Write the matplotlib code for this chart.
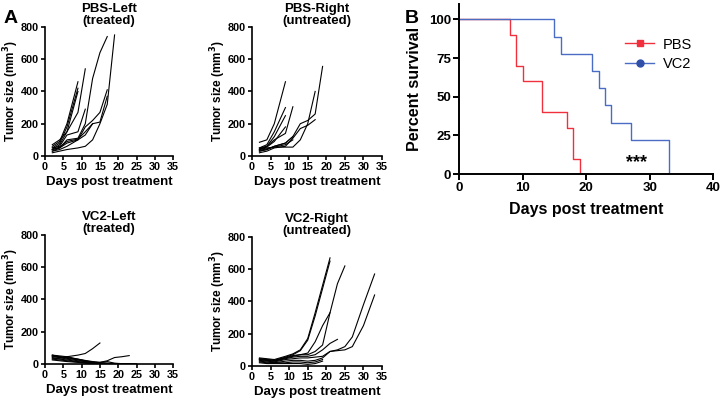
import numpy as np
import matplotlib.pyplot as plt

plt.rcParams['font.family'] = ['Liberation Sans', 'DejaVu Sans']

# tumor growth curves: (days, volumes) per mouse
pbs_left = [
    ([2, 4, 6, 9], [60, 90, 200, 460]),
    ([2, 4, 6, 9], [50, 80, 180, 420]),
    ([2, 4, 6, 9], [40, 70, 150, 400]),
    ([2, 4, 6, 9, 11], [70, 100, 150, 270, 540]),
    ([2, 4, 6, 9, 11], [50, 60, 130, 150, 290]),
    ([2, 4, 6, 9, 11, 13, 15, 17], [40, 50, 100, 110, 200, 480, 640, 740]),
    ([2, 4, 6, 9, 11, 13, 15, 17], [30, 50, 80, 100, 180, 220, 270, 410]),
    ([2, 4, 6, 9, 11, 13, 15, 17], [30, 40, 60, 100, 130, 200, 210, 370]),
    ([2, 4, 6, 9, 11, 13, 15, 17, 19], [20, 30, 40, 50, 60, 100, 200, 320, 750]),
    ([2, 4, 6, 9, 11, 13], [40, 55, 90, 105, 150, 200]),
]
pbs_right = [
    ([2, 4, 6, 9], [85, 100, 200, 460]),
    ([2, 4, 6, 9], [50, 70, 150, 300]),
    ([2, 4, 6, 9], [40, 60, 120, 250]),
    ([2, 4, 6, 9, 11], [50, 60, 100, 140, 305]),
    ([2, 4, 6, 9, 11, 13, 15, 17, 19], [30, 40, 60, 80, 120, 200, 220, 260, 555]),
    ([2, 4, 6, 9, 11, 13, 15, 17], [20, 30, 50, 60, 110, 170, 190, 225]),
    ([2, 4, 6, 9, 11, 13, 15, 17], [40, 50, 55, 55, 55, 100, 200, 400]),
    ([2, 4, 6, 9, 11], [30, 40, 60, 80, 120]),
    ([2, 4, 6, 9], [45, 55, 90, 180]),
    ([2, 4, 6, 9, 11], [35, 45, 55, 70, 100]),
]
vc2_left = [
    ([2, 4, 6, 9, 11, 13, 15], [35, 35, 45, 55, 65, 95, 130]),
    ([2, 4, 6, 9, 11, 13, 15, 17, 19, 21, 23], [50, 40, 30, 20, 15, 10, 10, 20, 40, 45, 52]),
    ([2, 4, 6, 9, 11, 13, 15, 17, 19, 21, 23, 25], [55, 50, 45, 30, 20, 12, 8, 5, 3, 2, 1, 0]),
    ([2, 4, 6, 9, 11, 13, 15, 17, 19, 21, 23], [50, 45, 40, 28, 18, 10, 6, 4, 2, 1, 0]),
    ([2, 4, 6, 9, 11, 13, 15, 17, 19, 21], [45, 40, 35, 25, 15, 10, 5, 3, 1, 0]),
    ([2, 4, 6, 9, 11, 13, 15, 17, 19], [40, 30, 25, 15, 10, 6, 3, 1, 0]),
    ([2, 4, 6, 9, 11, 13, 15, 17], [30, 25, 20, 12, 8, 4, 2, 0]),
    ([2, 4, 6, 9, 11, 13, 15, 17, 19, 21, 23, 25], [55, 45, 40, 30, 22, 15, 10, 15, 5, 2, 1, 0]),
    ([2, 4, 6, 9, 11, 13, 15], [25, 20, 15, 10, 5, 2, 0]),
]
vc2_right = [
    ([2, 4, 6, 9, 11, 13, 15, 17, 19, 21], [50, 45, 40, 60, 75, 100, 170, 330, 500, 670]),
    ([2, 4, 6, 9, 11, 13, 15, 17, 19, 21], [45, 40, 35, 55, 70, 95, 160, 310, 480, 650]),
    ([2, 4, 6, 9, 11, 13, 15, 17, 19, 21, 23, 25], [40, 35, 30, 50, 65, 70, 80, 150, 250, 330, 510, 620]),
    ([2, 4, 6, 9, 11, 13, 15, 17, 19, 21], [45, 40, 35, 50, 60, 70, 70, 90, 130, 330]),
    ([2, 4, 6, 9, 11, 13, 15, 17, 19, 21, 23], [40, 35, 30, 45, 55, 60, 60, 70, 100, 140, 165]),
    ([2, 4, 6, 9, 11, 13, 15, 17, 19, 21, 23, 25, 27, 30, 33], [35, 30, 25, 40, 45, 50, 50, 55, 60, 90, 100, 120, 180, 380, 570]),
    ([2, 4, 6, 9, 11, 13, 15, 17, 19, 21, 23, 25, 27, 30, 33], [30, 25, 20, 30, 35, 35, 30, 35, 50, 90, 95, 100, 120, 250, 440]),
    ([2, 4, 6, 9, 11, 13, 15, 17, 19], [25, 20, 20, 20, 25, 25, 20, 25, 40]),
    ([2, 4, 6, 9, 11, 13, 15, 17, 19], [20, 15, 15, 15, 15, 15, 10, 15, 30]),
]

# survival (Kaplan-Meier steps)
pbs_t = [0, 8, 9, 10, 13, 17, 18, 19]
pbs_s = [100, 90, 70, 60, 40, 30, 10, 0]
vc2_t = [0, 15, 16, 21, 22, 23, 24, 27, 33]
vc2_s = [100, 88.9, 77.8, 66.7, 55.6, 44.4, 33.3, 22.2, 0]

fig = plt.figure(figsize=(7.2, 4.01), dpi=100)

panels = [
    (pbs_left, 'PBS-Left\n(treated)', [0.0625, 0.611, 0.178, 0.322]),
    (pbs_right, 'PBS-Right\n(untreated)', [0.35, 0.611, 0.1806, 0.322]),
    (vc2_left, 'VC2-Left\n(treated)', [0.0625, 0.0923, 0.178, 0.322]),
    (vc2_right, 'VC2-Right\n(untreated)', [0.35, 0.0873, 0.1806, 0.322]),
]

for curves, title, pos in panels:
    ax = fig.add_axes(pos)
    for d, v in curves:
        ax.plot(d, v, color='black', lw=0.8)
    ax.set_xlim(0, 35)
    ax.set_ylim(0, 800)
    ax.set_xticks(np.arange(0, 36, 5))
    ax.set_yticks([0, 200, 400, 600, 800])
    ax.set_title(title, fontsize=9.5, fontweight='bold', pad=1, linespacing=1.0)
    ax.set_xlabel('Days post treatment', fontsize=9.5, fontweight='bold', labelpad=3)
    ax.set_ylabel('Tumor size (mm$^\\mathbf{3}$)', fontsize=8.5, fontweight='bold')
    ax.yaxis.set_label_coords(-0.185, 0.5)
    ax.spines['top'].set_visible(False)
    ax.spines['right'].set_visible(False)
    for s in ['left', 'bottom']:
        ax.spines[s].set_linewidth(1.2)
    ax.tick_params(labelsize=7.8, width=1.2, length=3, pad=1.5)
    for lab in ax.get_xticklabels() + ax.get_yticklabels():
        lab.set_fontweight('bold')

# panel B
axb = fig.add_axes([0.6375, 0.566, 0.353, 0.424])
axb.step(pbs_t, pbs_s, where='post', color='#f0303c', lw=1.0)
axb.step(vc2_t, vc2_s, where='post', color='#4a6cc4', lw=1.0)
axb.plot([], [], color='#f0303c', marker='s', ms=5, lw=1, label='PBS')
axb.plot([], [], color='#4a6cc4', marker='o', ms=5, lw=1, mfc='#2f4fa8', mec='#2f4fa8',
         label='VC2')
axb.legend(loc='upper right', bbox_to_anchor=(0.97, 0.88), frameon=False, fontsize=10.5,
           handlelength=2.0, labelspacing=0.35, handletextpad=0.6)
axb.set_xlim(0, 40)
axb.set_ylim(0, 110)
axb.set_xticks([0, 10, 20, 30, 40])
axb.set_yticks([0, 25, 50, 75, 100])
axb.set_xlabel('Days post treatment', fontsize=11.5, fontweight='bold', labelpad=6)
axb.set_ylabel('Percent survival', fontsize=11.5, fontweight='bold', labelpad=5)
axb.spines['top'].set_visible(False)
axb.spines['right'].set_visible(False)
for s in ['left', 'bottom']:
    axb.spines[s].set_linewidth(1.4)
axb.tick_params(labelsize=9.5, width=1.4, length=4, pad=1.5)
for lab in axb.get_xticklabels() + axb.get_yticklabels():
    lab.set_fontweight('bold')
axb.text(28, 2, '***', fontsize=13, fontweight='bold', ha='center', va='bottom')

fig.text(0.005, 0.975, 'A', fontsize=14, fontweight='bold', va='top')
fig.text(0.562, 0.975, 'B', fontsize=14, fontweight='bold', va='top')

plt.savefig('out.png', dpi=100)
